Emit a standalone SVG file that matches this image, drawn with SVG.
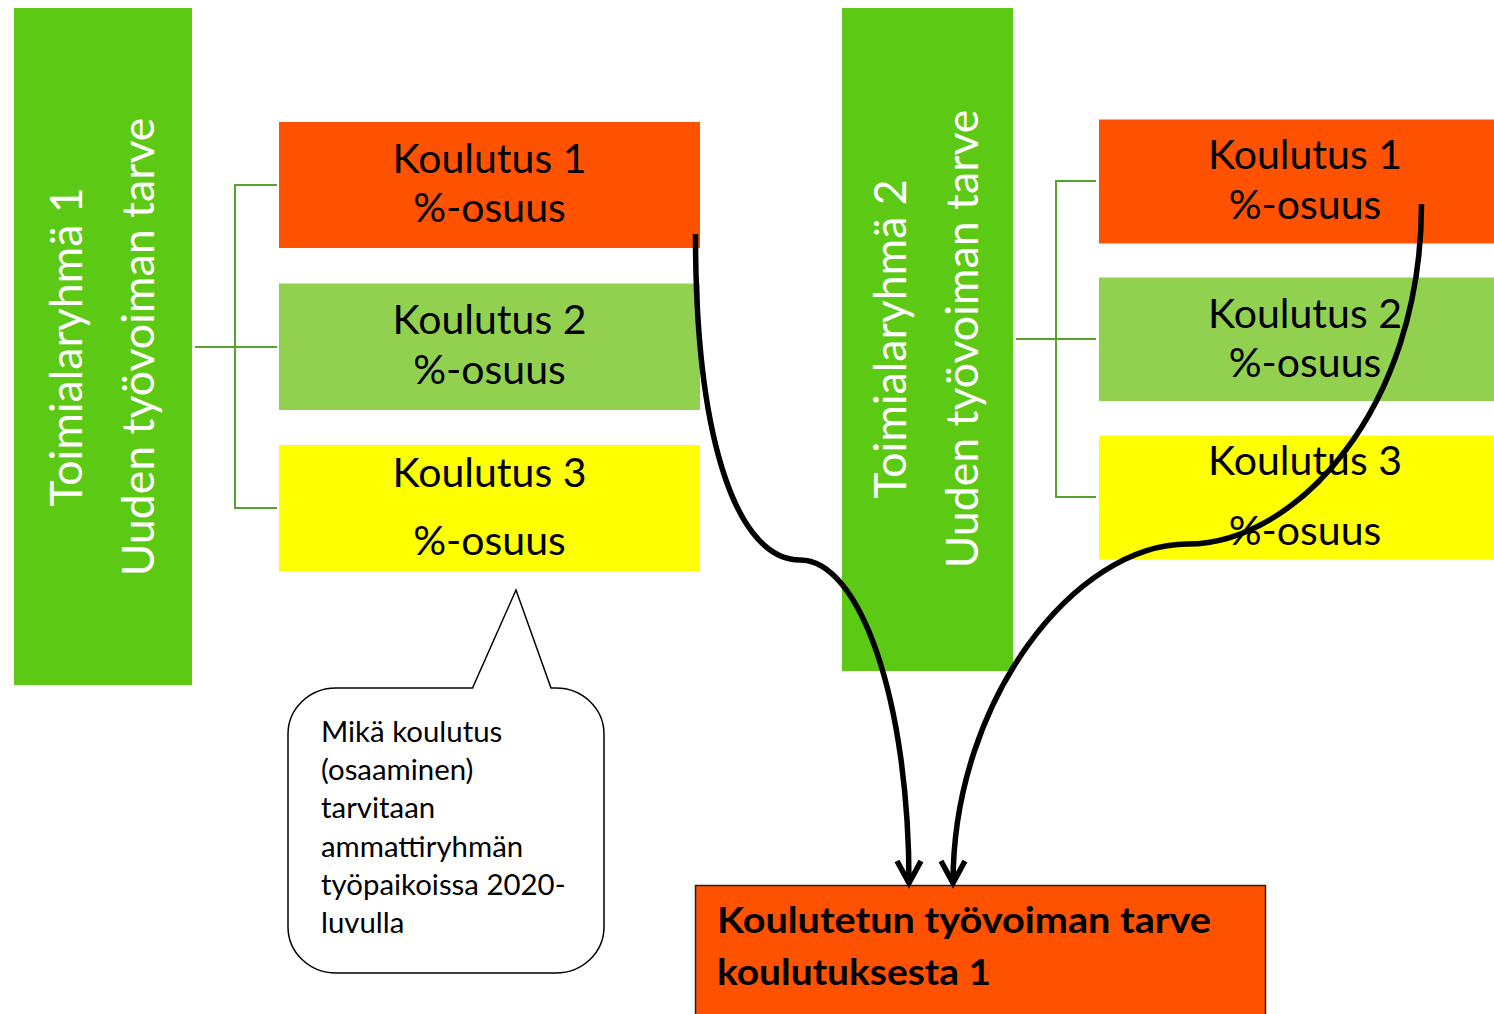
<svg xmlns="http://www.w3.org/2000/svg" width="1494" height="1014" viewBox="0 0 1494 1014">
<style>
  .grp { fill: #5CCA14; }
  .o { fill: #FF5200; }
  .g { fill: #92D050; }
  .y { fill: #FFFF00; }
  .vt { font-family: Lato, "Liberation Sans", sans-serif; font-size: 44.6px; fill: #FFFFFF; text-anchor: middle; }
  .kt { font-family: Lato, "Liberation Sans", sans-serif; font-size: 41px; fill: #000000; text-anchor: middle; }
  .ct { font-family: Lato, "Liberation Sans", sans-serif; font-size: 29.4px; fill: #000000; }
  .bt { font-family: Lato, "Liberation Sans", sans-serif; font-size: 37px; font-weight: bold; fill: #000000; }
  .br { fill: none; stroke: #58A32A; stroke-width: 2; }
  .cv { fill: none; stroke: #000000; stroke-width: 5.5; marker-end: url(#arr); }
</style>
<defs>
  <marker id="arr" markerUnits="userSpaceOnUse" markerWidth="40" markerHeight="40" refX="0" refY="0" viewBox="-30 -20 40 40" orient="auto" overflow="visible">
    <path d="M -22 -12 L 0 0 L -22 12" fill="none" stroke="#000000" stroke-width="5.5" stroke-linejoin="miter"/>
  </marker>
</defs>
<rect width="1494" height="1014" fill="#FFFFFF"/>

<g id="toimialaryhma1">
  <rect class="grp" x="14" y="8" width="178" height="677"/>
  <text class="vt" transform="translate(82,347) rotate(-90)">Toimialaryhmä 1</text>
  <text class="vt" transform="translate(154,347) rotate(-90)">Uuden työvoiman tarve</text>
</g>

<g id="l-koulutus1">
  <rect class="o" x="279" y="122" width="421" height="126"/>
  <text class="kt" x="489.5" y="173">Koulutus 1</text>
  <text class="kt" x="489.5" y="222">%-osuus</text>
</g>
<g id="l-koulutus2">
  <rect class="g" x="279" y="283.5" width="421" height="126.5"/>
  <text class="kt" x="489.5" y="333.5">Koulutus 2</text>
  <text class="kt" x="489.5" y="384">%-osuus</text>
</g>
<g id="l-koulutus3">
  <rect class="y" x="279" y="445" width="421" height="126.5"/>
  <text class="kt" x="489.5" y="487">Koulutus 3</text>
  <text class="kt" x="489.5" y="555">%-osuus</text>
</g>

<g id="toimialaryhma2">
  <rect class="grp" x="842" y="8" width="171" height="663"/>
  <text class="vt" transform="translate(906,339) rotate(-90)">Toimialaryhmä 2</text>
  <text class="vt" transform="translate(978,339) rotate(-90)">Uuden työvoiman tarve</text>
</g>

<g id="r-koulutus1">
  <rect class="o" x="1099" y="119.5" width="412" height="124"/>
  <text class="kt" x="1305" y="168.5">Koulutus 1</text>
  <text class="kt" x="1305" y="218.5">%-osuus</text>
</g>
<g id="r-koulutus2">
  <rect class="g" x="1099" y="277.5" width="412" height="123.5"/>
  <text class="kt" x="1305" y="328">Koulutus 2</text>
  <text class="kt" x="1305" y="377">%-osuus</text>
</g>
<g id="r-koulutus3">
  <rect class="y" x="1099" y="435.5" width="412" height="124"/>
  <text class="kt" x="1305" y="475">Koulutus 3</text>
  <text class="kt" x="1305" y="545">%-osuus</text>
</g>

<g id="callout">
  <path d="M 336 688 L 472.5 688 L 516 590 L 551 688 L 556 688 A 48 46 0 0 1 604 734 L 604 927 A 48 46 0 0 1 556 973 L 336 973 A 48 46 0 0 1 288 927 L 288 734 A 48 46 0 0 1 336 688 Z" fill="#FFFFFF" stroke="#000000" stroke-width="1.5"/>
  <text class="ct" x="321" y="742">Mikä koulutus</text>
  <text class="ct" x="321" y="780">(osaaminen)</text>
  <text class="ct" x="321" y="818">tarvitaan</text>
  <text class="ct" x="321" y="857">ammattiryhmän</text>
  <text class="ct" x="321" y="895">työpaikoissa 2020-</text>
  <text class="ct" x="321" y="933">luvulla</text>
</g>

<g id="tarve">
  <rect class="o" x="695.5" y="885.5" width="570" height="140" stroke="#222222" stroke-width="1.5"/>
  <text class="bt" x="717" y="933" textLength="494" lengthAdjust="spacingAndGlyphs">Koulutetun työvoiman tarve</text>
  <text class="bt" x="717" y="985" textLength="274" lengthAdjust="spacingAndGlyphs">koulutuksesta 1</text>
</g>

<g id="connectors">
  <path class="br" d="M 277 185 H 235 V 508 H 277 M 195 347 H 277"/>
  <path class="br" d="M 1096 181 H 1056 V 497 H 1096 M 1016 339 H 1096"/>
  <path class="cv" d="M 695.5 234 C 695.5 450, 740 560, 800 560 C 860 560, 909 700, 909 883"/>
  <path class="cv" d="M 1421.5 204 C 1421.5 410, 1295 544, 1188 544 C 1075 544, 953 700, 953 883"/>
</g>
</svg>
